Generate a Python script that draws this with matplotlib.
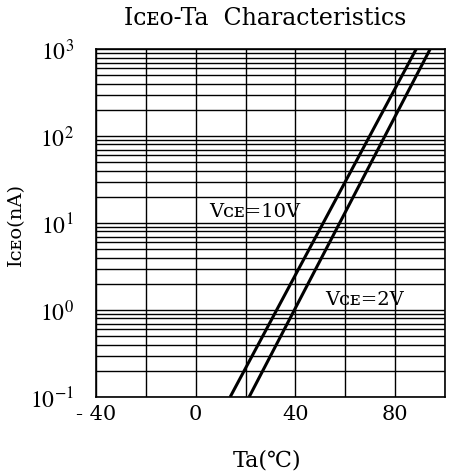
import matplotlib
matplotlib.use("Agg")
import matplotlib.pyplot as plt
from matplotlib.ticker import LogLocator, FixedLocator, FuncFormatter, NullFormatter
import numpy as np

# Data: straight lines on log scale
ta_10v = [13.8, 88.4]
iceo_10v = [0.1, 1000.0]
ta_2v = [21.4, 94.0]
iceo_2v = [0.1, 1000.0]

x_ticks = [-40, -20, 0, 20, 40, 60, 80, 100]
x_labels = {-40: "- 40", 0: "0", 40: "40", 80: "80"}
y_ticks = [0.1, 1, 10, 100, 1000]
y_labels = [r"$10^{-1}$", r"$10^{0}$", r"$10^{1}$", r"$10^{2}$", r"$10^{3}$"]

plt.rcParams['font.family'] = ['DejaVu Serif', 'DejaVu Sans']
plt.rcParams['mathtext.fontset'] = 'stix'

fig = plt.figure(figsize=(4.57, 4.77), dpi=100)
ax = fig.add_axes([0.210, 0.1656, 0.764, 0.7294])

ax.plot(ta_10v, iceo_10v, color='black', lw=2.2, solid_capstyle='butt')
ax.plot(ta_2v, iceo_2v, color='black', lw=2.2, solid_capstyle='butt')

ax.set_yscale('log')
ax.set_xlim(-40, 100)
ax.set_ylim(0.1, 1000)

ax.xaxis.set_major_locator(FixedLocator(x_ticks))
ax.xaxis.set_major_formatter(FuncFormatter(lambda v, p: x_labels.get(int(round(v)), "")))
ax.yaxis.set_major_locator(FixedLocator(y_ticks))
ax.yaxis.set_major_formatter(FuncFormatter(lambda v, p: y_labels[y_ticks.index(min(y_ticks, key=lambda t: abs(np.log10(t) - np.log10(v))))]))
ax.yaxis.set_minor_locator(LogLocator(base=10, subs=np.arange(2, 10)))
ax.yaxis.set_minor_formatter(NullFormatter())

ax.tick_params(axis='both', which='both', length=0)
ax.tick_params(axis='x', labelsize=15, pad=5)
ax.tick_params(axis='y', labelsize=17, pad=16)

ax.grid(True, which='major', color='black', lw=1.0)
ax.grid(True, which='minor', axis='y', color='black', lw=1.0)
for s in ax.spines.values():
    s.set_linewidth(1.2)
    s.set_color('black')

ax.text(5.5, 13.8, "V", fontsize=14, ha='left', va='center')
ax.annotate("ᴄᴇ=10V", xy=(5.5, 13.8), xytext=(10, 0), textcoords='offset points',
            fontsize=14, ha='left', va='center')
ax.text(52, 1.34, "V", fontsize=14, ha='left', va='center')
ax.annotate("ᴄᴇ=2V", xy=(52, 1.34), xytext=(10, 0), textcoords='offset points',
            fontsize=14, ha='left', va='center')

fig.text(0.58, 0.962, "Iᴄᴇᴏ-Ta  Characteristics", fontsize=17, ha='center', va='center')
fig.text(0.035, 0.53, "Iᴄᴇᴏ(nA)", fontsize=14, ha='center', va='center', rotation=90)
fig.text(0.585, 0.035, "Ta(℃)", fontsize=16, ha='center', va='center')

fig.savefig("out.png", dpi=100)
